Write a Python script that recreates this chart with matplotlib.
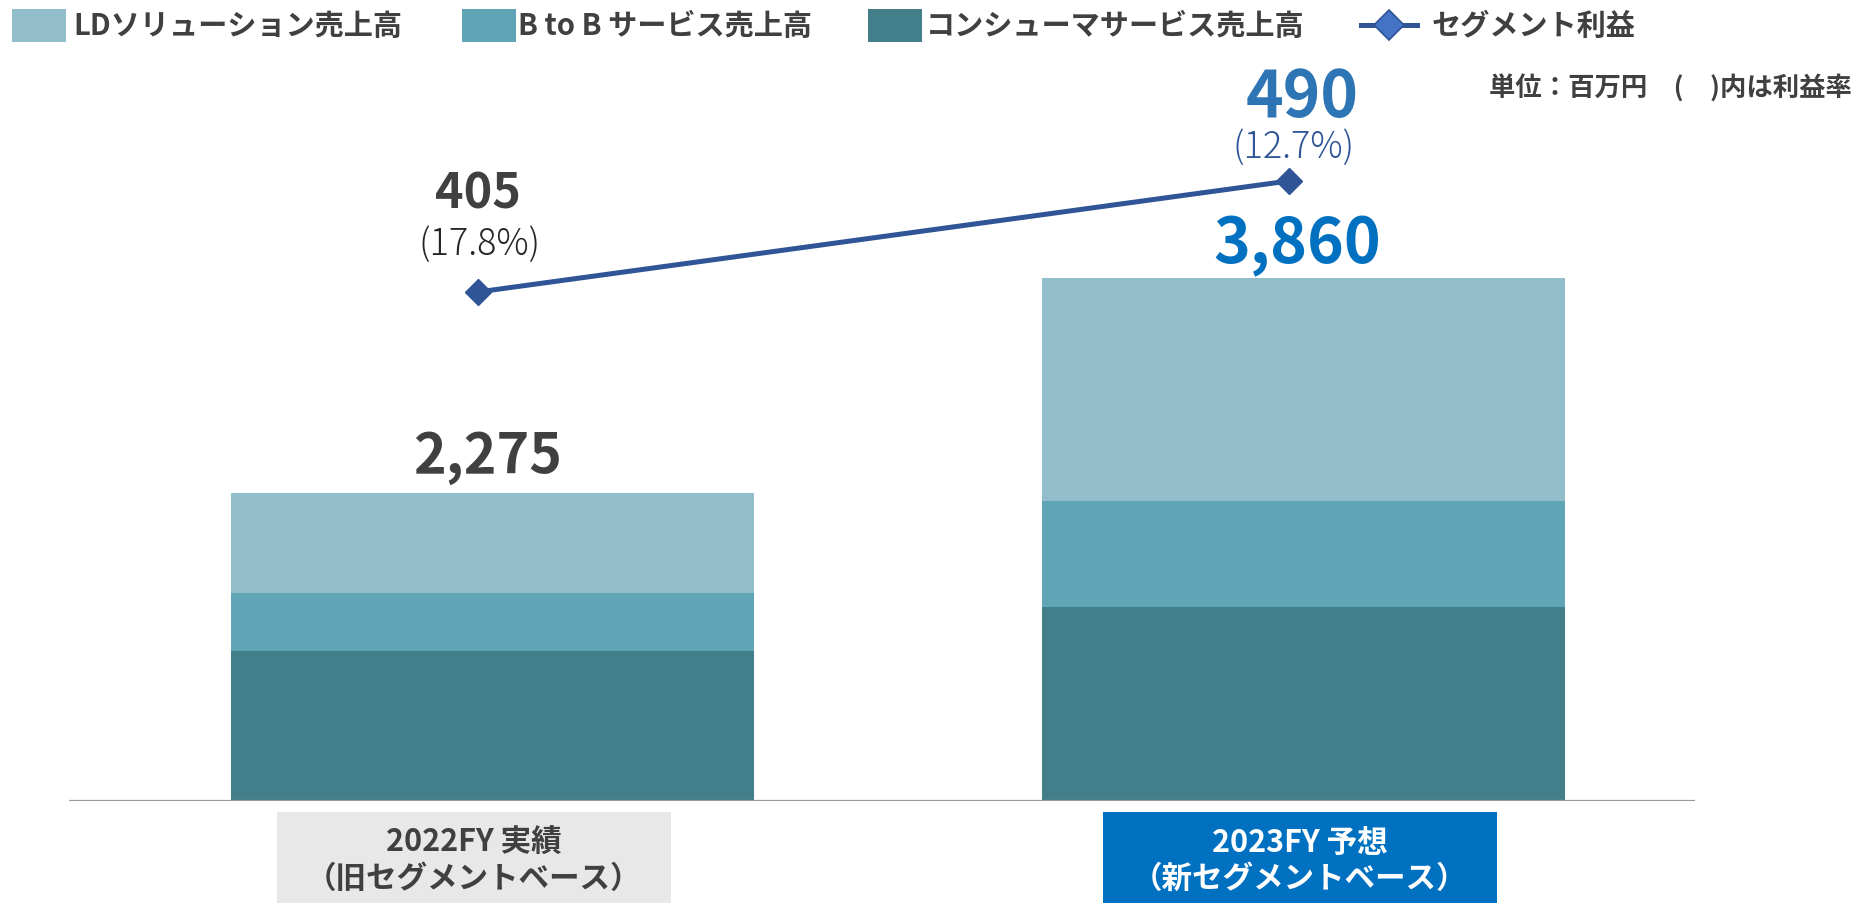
import matplotlib
matplotlib.use("Agg")
import matplotlib.pyplot as plt
from matplotlib.patches import Rectangle
from matplotlib.lines import Line2D

plt.rcParams['font.family'] = ['Noto Sans CJK JP', 'DejaVu Sans']

# ---------------- data ----------------
categories = ["2022FY 実績\n（旧セグメントベース）", "2023FY 予想\n（新セグメントベース）"]
series_names = ["LDソリューション売上高", "B to B サービス売上高", "コンシューマサービス売上高"]
consumer_sales = [1105, 1430]
btob_sales = [430, 780]
ld_sales = [740, 1650]
totals = [2275, 3860]
profit = [405, 490]
profit_rate = ["(17.8%)", "(12.7%)"]
profit_name = "セグメント利益"
unit_note = "単位：百万円　(　)内は利益率"

# ---------------- style ----------------
W, H = 1856, 904
c_ld = "#91BECA"
c_btob = "#60A5B5"
c_cons = "#437F8B"
c_line = "#2F5597"
c_text = "#404040"

fig = plt.figure(figsize=(W / 100, H / 100), dpi=100)
ax = fig.add_axes([69 / W, 1 - 802 / H, 1626 / W, 742 / H])
ax2 = ax.twinx()

x = [0, 1]
bw = 0.645
ax.bar(x, consumer_sales, bw, color=c_cons, zorder=2)
ax.bar(x, btob_sales, bw, bottom=consumer_sales, color=c_btob, zorder=2)
bottoms2 = [a + b for a, b in zip(consumer_sales, btob_sales)]
ax.bar(x, ld_sales, bw, bottom=bottoms2, color=c_ld, zorder=2)

ax.set_xlim(-0.522, 1.483)
ax.set_ylim(0, 5473)
ax2.set_ylim(15.3, 583.4)

for a in (ax, ax2):
    for s in a.spines.values():
        s.set_visible(False)
    a.set_xticks([])
    a.set_yticks([])
ax.axhline(0, color="#9A9A9A", lw=1.6, zorder=3)

# profit line
xl = [xi - 0.018 for xi in x]
ax2.plot(xl, profit, color=c_line, lw=3.6, marker="D", ms=13.5,
         markerfacecolor=c_line, markeredgecolor=c_line, zorder=5)

PT = 0.72  # px -> pt at 100 dpi

# total labels
tot_style = [dict(size=40, color=c_text, dx=-5, dy=21),
             dict(size=45, color="#0070C0", dx=-6, dy=15)]
for xi, t, st in zip(x, totals, tot_style):
    ax.annotate(f"{t:,}", (xi, t), xytext=(st['dx'] * PT, st['dy'] * PT),
                textcoords="offset points", ha="center", va="baseline",
                fontsize=st['size'], fontweight="bold", color=st['color'])

# profit labels
pv_style = [dict(size=35, color=c_text, dx=0, dy=85),
            dict(size=46, color="#2E75B6", dx=13, dy=65)]
pr_style = [dict(size=26, color="#262626", dx=2, dy=38),
            dict(size=26, color="#2F5597", dx=5, dy=24)]
for xi, p, r, s1, s2 in zip(xl, profit, profit_rate, pv_style, pr_style):
    ax2.annotate(f"{p}", (xi, p), xytext=(s1['dx'] * PT, s1['dy'] * PT),
                 textcoords="offset points", ha="center", va="baseline",
                 fontsize=s1['size'], fontweight="bold", color=s1['color'])
    ax2.annotate(r, (xi, p), xytext=(s2['dx'] * PT, s2['dy'] * PT),
                 textcoords="offset points", ha="center", va="baseline",
                 fontsize=s2['size'], fontweight="light", color=s2['color'])

# category boxes
box_style = [dict(x0=277, fc="#E8E8E8", tc=c_text), dict(x0=1103, fc="#0070C0", tc="white")]
for cat, bs in zip(categories, box_style):
    fig.patches.append(Rectangle((bs['x0'] / W, 0), 394 / W, (H - 813) / H,
                                 transform=fig.transFigure, facecolor=bs['fc'],
                                 edgecolor="none", zorder=1))
    l1, l2 = cat.split("\n")
    cx = (bs['x0'] + 197) / W
    fig.text(cx, 1 - 843 / H, l1, ha="center", va="center", fontsize=22,
             fontweight="bold", color=bs['tc'])
    fig.text(cx, 1 - 879 / H, l2, ha="center", va="center", fontsize=22,
             fontweight="bold", color=bs['tc'])

# legend (manual)
leg_y = 26
for x0, col, name, tx in zip([12, 462, 868], [c_ld, c_btob, c_cons], series_names, [73, 518, 926]):
    fig.patches.append(Rectangle((x0 / W, 1 - 43 / H), 54 / W, 33 / H,
                                 transform=fig.transFigure, facecolor=col,
                                 edgecolor="none"))
    fig.text(tx / W, 1 - leg_y / H, name, ha="left", va="center", fontsize=21,
             fontweight="bold", color=c_text)
fig.lines.append(Line2D([1361 / W, 1417 / W], [1 - leg_y / H, 1 - leg_y / H],
                        transform=fig.transFigure, color=c_line, lw=3.6,
                        marker=None))
fig.lines.append(Line2D([1389 / W], [1 - leg_y / H], transform=fig.transFigure,
                        marker="D", ms=15, markerfacecolor="#4472C4",
                        markeredgecolor=c_line, markeredgewidth=1.2, lw=0))
fig.text(1432 / W, 1 - leg_y / H, profit_name, ha="left", va="center", fontsize=21,
         fontweight="bold", color=c_text)

# unit note
fig.text(1852 / W, 1 - 89 / H, unit_note, ha="right", va="center", fontsize=19,
         fontweight="bold", color=c_text)

fig.savefig("out.png", dpi=100)
